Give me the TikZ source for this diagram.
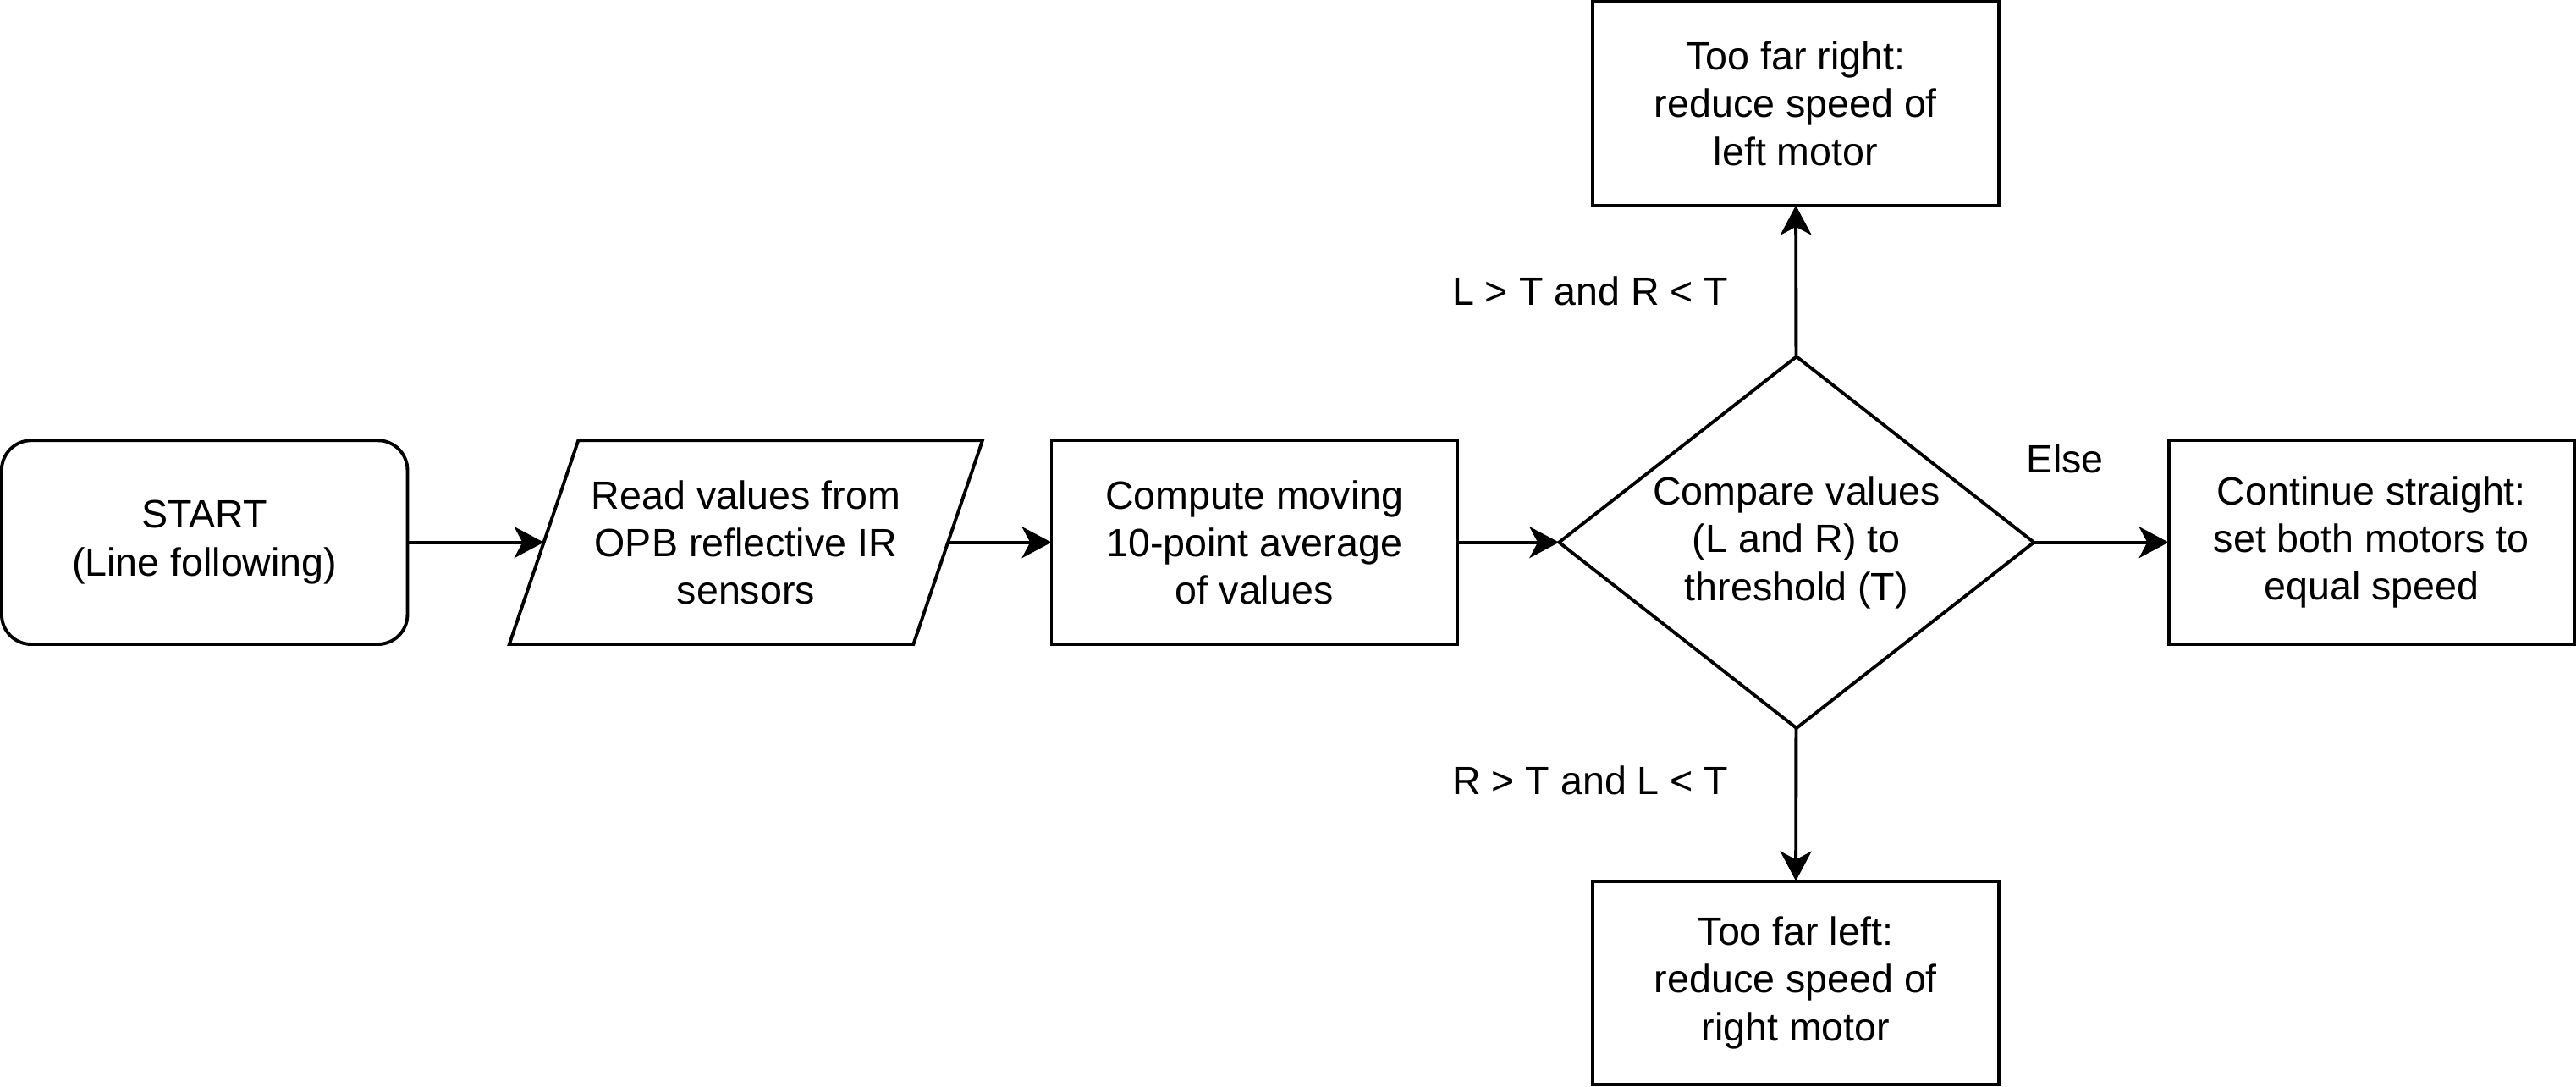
\documentclass[tikz,border=0pt]{standalone}
\usepackage{fontspec}
\setmainfont{Liberation Sans}
\usetikzlibrary{shapes.geometric,arrows.meta}
\begin{document}
\begin{tikzpicture}[x=1pt,y=-1pt,
  every node/.style={font=\fontsize{24}{29}\selectfont, align=center, inner sep=0pt, outer sep=0pt},
  box/.style={draw, line width=2pt, minimum width=247pt, minimum height=124pt},
  startbox/.style={box, rounded corners=18pt},
  iobox/.style={minimum width=246pt, minimum height=124pt},
  outline/.style={line width=2pt, line join=miter},
  decision/.style={draw, line width=2pt, diamond, minimum width=289pt, minimum height=226pt},
  conn/.style={line width=2pt, -{Stealth[length=18pt, width=19pt, inset=5pt]}},
  lbl/.style={font=\fontsize{24}{29}\selectfont}
]
\useasboundingbox (0,0) rectangle (1568,661.4);
\node[startbox] (start) at (124.5,330) {START\\(Line following)};
\node[iobox] (read) at (454,330) {Read values from\\OPB reflective IR\\sensors};
\draw[outline] ([xshift=21pt]read.north west) -- ([xshift=21pt]read.north east)
  -- ([xshift=-21pt]read.south east) -- ([xshift=-21pt]read.south west) -- cycle;
\node[box] (avg) at (763.5,330) {Compute moving\\10-point average\\of values};
\node[decision] (cmp) at (1093.5,330) {};
\node at (cmp.center) {Compare values\\(L and R) to\\threshold (T)};
\node[box] (right) at (1093,63) {Too far right:\\reduce speed of\\left motor};
\node[box] (left) at (1093,598) {Too far left:\\reduce speed of\\right motor};
\node[box] (straight) at (1443.5,330) {Continue straight:\\set both motors to\\equal speed};
\draw[conn] (start) -- (read);
\draw[conn] (read) -- (avg);
\draw[conn] (avg) -- (cmp);
\draw[conn] (cmp) -- (straight);
\draw[conn] (cmp) -- (right);
\draw[conn] (cmp) -- (left);
\node[lbl] (lt) at (968,177) {L > T and R < T};
\node[lbl] (rt) at (968,475) {R > T and L < T};
\node[lbl] (else) at (1257,279) {Else};
\end{tikzpicture}
\end{document}
